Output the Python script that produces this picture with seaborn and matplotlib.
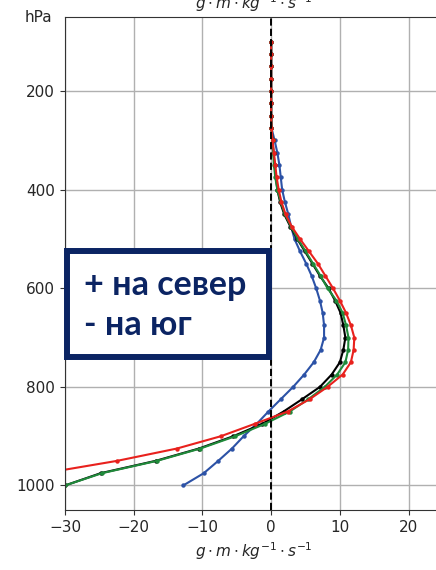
import numpy as np
import pandas as pd
import matplotlib
matplotlib.use("Agg")
import matplotlib.pyplot as plt
import seaborn as sns
from matplotlib.patches import Rectangle

# pressure levels, hPa
levels = [100, 125, 150, 175, 200, 225, 250, 275, 300, 325, 350, 375, 400, 425, 450, 475, 500,
          525, 550, 575, 600, 625, 650, 675, 700, 725, 750, 775, 800, 825, 850, 875, 900, 925,
          950, 975, 1000]
# flux profiles, g*m/kg/s
blueV = [0.0, 0.0, 0.0, 0.0, 0.0, 0.0, 0.0, 0.05, 0.5, 0.9, 1.2, 1.4, 1.6, 2.0, 2.5, 2.9, 3.4,
         4.2, 5.1, 5.9, 6.55, 7.1, 7.5, 7.7, 7.7, 7.2, 6.2, 4.8, 3.2, 1.4, -0.4, -2.1, -4.0, -5.7,
         -7.7, -9.8, -12.8]
blackV = [0.0, 0.0, 0.0, 0.0, 0.0, 0.0, 0.0, 0.05, 0.2, 0.35, 0.5, 0.7, 0.9, 1.3, 1.9, 2.8, 3.8,
          4.9, 6.0, 7.1, 8.35, 9.3, 10.1, 10.5, 10.8, 10.5, 10.0, 8.8, 7.1, 4.5, 1.8, -1.3, -5.5,
          -10.5, -16.8, -24.8, -30.0]
greenV = [0.0, 0.0, 0.0, 0.0, 0.0, 0.0, 0.0, 0.05, 0.2, 0.3, 0.4, 0.6, 0.9, 1.4, 2.0, 2.9, 3.9,
          5.0, 6.1, 7.2, 8.2, 9.5, 10.4, 10.9, 11.25, 11.2, 10.8, 9.6, 7.8, 5.4, 2.7, -0.9, -5.2,
          -10.3, -16.6, -24.6, -30.0]
redV = [0.0, 0.0, 0.0, 0.0, 0.0, 0.0, 0.0, 0.05, 0.2, 0.4, 0.6, 0.8, 1.1, 1.5, 2.1, 3.0, 4.2,
        5.5, 6.8, 7.9, 9.0, 10.0, 10.9, 11.6, 12.1, 12.0, 11.6, 10.4, 8.2, 5.6, 2.4, -2.4, -7.3,
        -13.7, -22.4, -33.0, -45.0]

sns.set_style("ticks")
fig = plt.figure(figsize=(4.36, 5.70), dpi=100)
ax = fig.add_axes([0.149, 0.105, 0.867, 0.865])

for vals, col in [(blueV, "#2c52a6"), (blackV, "black"), (greenV, "#1f8a3a"), (redV, "#e8211d")]:
    sns.lineplot(x=vals, y=levels, sort=False, estimator=None, color=col, lw=1.5,
                 marker="o", markersize=3.2, markeredgewidth=0, ax=ax)

ax.axvline(0, color="black", ls="--", lw=1.4, zorder=6)
ax.set_xlim(-30, 25)
ax.set_ylim(1050, 50)
ax.set_xticks([-30, -20, -10, 0, 10, 20])
ax.set_yticks([200, 400, 600, 800, 1000])
ax.grid(True, color="#b0b0b0", lw=1)
ax.set_axisbelow(True)
ax.tick_params(labelsize=11, color="#333333")
for s in ax.spines.values():
    s.set_color("#333333")
ax.set_xlabel(r"$g\cdot m\cdot kg^{-1}\cdot s^{-1}$", fontsize=11)
ax.set_title(r"$g\cdot m\cdot kg^{-1}\cdot s^{-1}$", fontsize=11)
ax.text(-0.034, 1.0, "hPa", transform=ax.transAxes, ha="right", va="center", fontsize=11)

navy = "#0b2463"
ax.add_patch(Rectangle((-29.7, 524), 29.4, 216, fill=True, facecolor="white", edgecolor=navy,
                       lw=4.3, zorder=7, clip_on=False))
ax.text(-27.3, 613, "+ на север", color=navy, fontsize=24.5, fontweight="bold",
        family=["Lato", "DejaVu Sans"], va="baseline", ha="left", zorder=8)
ax.text(-27.3, 695, "- на юг", color=navy, fontsize=24.5, fontweight="bold",
        family=["Lato", "DejaVu Sans"], va="baseline", ha="left", zorder=8)

fig.savefig("out.png", dpi=100)
